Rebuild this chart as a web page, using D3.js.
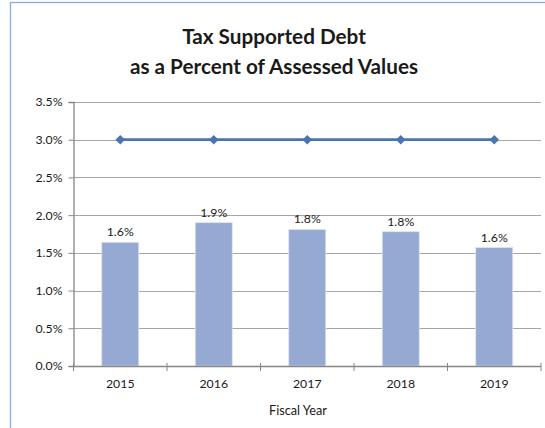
<!DOCTYPE html>
<html>
<head>
<meta charset="utf-8">
<script src="https://cdn.jsdelivr.net/npm/d3@7"></script>
<style>
  html, body { margin: 0; padding: 0; background: #fff; }
  svg { display: block; }
  text { font-family: Lato, "Open Sans", sans-serif; fill: #1a1a1a; }
</style>
</head>
<body>
<svg id="chart" width="545" height="428"></svg>
<script>
// Fiscal years and debt ratios (percent of assessed values)
const years = ["2015", "2016", "2017", "2018", "2019"];
const debtPct = [1.64, 1.90, 1.81, 1.78, 1.57];
const limitPct = [3.0, 3.0, 3.0, 3.0, 3.0];
const yTicks = [0, 0.5, 1.0, 1.5, 2.0, 2.5, 3.0, 3.5];
const titleLines = ["Tax Supported Debt", "as a Percent of Assessed Values"];
const xTitle = "Fiscal Year";

const svg = d3.select("#chart");
const plot = { left: 73.5, right: 541, top: 102, bottom: 366 };

// chart frame (left and top edges visible)
svg.append("rect")
  .attr("x", 10.5).attr("y", 2.5)
  .attr("width", 560).attr("height", 450)
  .attr("fill", "none")
  .attr("stroke", "#8FAADC")
  .attr("stroke-width", 1.3);

const x = d3.scaleBand().domain(years).range([plot.left, plot.right]).paddingInner(0).paddingOuter(0);
const y = d3.scaleLinear().domain([0, 3.5]).range([plot.bottom, plot.top]);

// horizontal gridlines
svg.append("g")
  .selectAll("line")
  .data(yTicks.filter(d => d > 0))
  .join("line")
  .attr("x1", plot.left).attr("x2", plot.right)
  .attr("y1", d => Math.round(y(d)) + 0.5).attr("y2", d => Math.round(y(d)) + 0.5)
  .attr("stroke", "#A6A6A6")
  .attr("stroke-width", 1.2);

// bars
const barW = 37;
svg.append("g")
  .selectAll("rect")
  .data(debtPct)
  .join("rect")
  .attr("x", (d, i) => x(years[i]) + x.bandwidth() / 2 - barW / 2)
  .attr("y", d => y(d))
  .attr("width", barW)
  .attr("height", d => y(0) - y(d))
  .attr("fill", "#95A9D2")
  .attr("stroke", "#DCE3F1")
  .attr("stroke-width", 0.8);

// bar value labels
const fmt = d3.format(".1f");
svg.append("g")
  .selectAll("text")
  .data(debtPct)
  .join("text")
  .attr("x", (d, i) => x(years[i]) + x.bandwidth() / 2)
  .attr("y", d => y(d) - 6)
  .attr("text-anchor", "middle")
  .attr("font-size", 12.3)
  .text(d => fmt(d) + "%");

// y axis
const yAxis = d3.axisLeft(y)
  .tickValues(yTicks)
  .tickFormat(d => d3.format(".1f")(d) + "%")
  .tickSize(5)
  .tickPadding(6);
const gy = svg.append("g")
  .attr("transform", `translate(${plot.left},0)`)
  .call(yAxis);
gy.select(".domain").attr("stroke", "#868686").attr("stroke-width", 1.3);
gy.selectAll(".tick line").attr("stroke", "#868686");
gy.selectAll(".tick text")
  .attr("font-size", 12.3)
  .attr("font-family", "Lato, 'Open Sans', sans-serif")
  .attr("fill", "#1a1a1a");

// x axis with ticks at band edges
const gx = svg.append("g").attr("transform", `translate(0,${plot.bottom})`);
gx.append("line")
  .attr("x1", plot.left).attr("x2", plot.right)
  .attr("y1", 0.5).attr("y2", 0.5)
  .attr("stroke", "#868686").attr("stroke-width", 1.3);
const edges = years.map(d => x(d)).concat([plot.right]);
gx.selectAll("line.tk")
  .data(edges)
  .join("line")
  .attr("class", "tk")
  .attr("x1", d => d).attr("x2", d => d)
  .attr("y1", -3).attr("y2", 5)
  .attr("stroke", "#868686");
gx.selectAll("text")
  .data(years)
  .join("text")
  .attr("x", d => x(d) + x.bandwidth() / 2)
  .attr("y", 21.5)
  .attr("text-anchor", "middle")
  .attr("font-size", 12.3)
  .text(d => d);

// 3.0% limit line with square-diamond markers
const cx = (d, i) => x(years[i]) + x.bandwidth() / 2;
const line = d3.line().x((d, i) => cx(d, i)).y(d => y(d));
svg.append("path")
  .datum(limitPct)
  .attr("d", line)
  .attr("fill", "none")
  .attr("stroke", "#4A74B0")
  .attr("stroke-width", 2.8);
svg.append("g")
  .selectAll("path")
  .data(limitPct)
  .join("path")
  .attr("transform", (d, i) => `translate(${cx(d, i)},${y(d)}) rotate(45)`)
  .attr("d", d3.symbol(d3.symbolSquare, 46))
  .attr("fill", "#4A74B0");

// titles
svg.append("g")
  .selectAll("text")
  .data(titleLines)
  .join("text")
  .attr("x", 274)
  .attr("y", (d, i) => 44 + i * 30)
  .attr("text-anchor", "middle")
  .attr("font-size", 20.7)
  .attr("font-weight", "bold")
  .text(d => d);

svg.append("text")
  .attr("x", 298)
  .attr("y", 415)
  .attr("text-anchor", "middle")
  .attr("font-size", 12.7)
  .text(xTitle);
</script>
</body>
</html>
